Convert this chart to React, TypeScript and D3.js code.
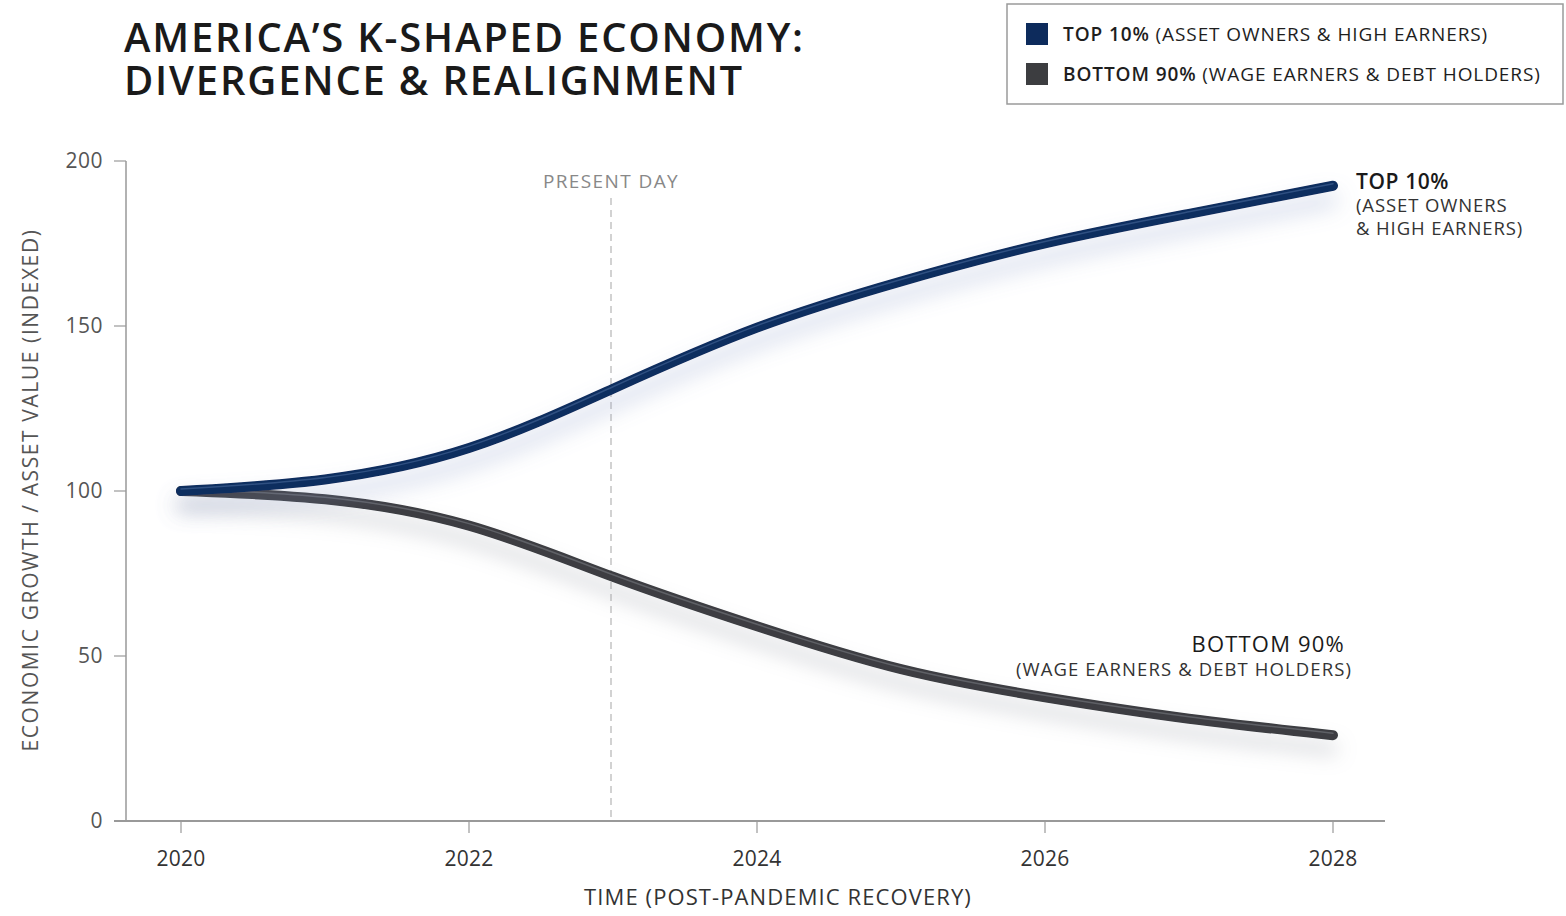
import React from "react";
import * as d3 from "d3";

const years = [2020, 2021, 2022, 2023, 2024, 2025, 2026, 2027, 2028];
const top10 = [100, 103.5, 113, 131, 149.5, 163.5, 175, 184, 192.5];
const bottom90 = [100, 97.5, 89.5, 74, 59, 46, 37.5, 31, 26];
const yTicks = [0, 50, 100, 150, 200];
const xTicks = [2020, 2022, 2024, 2026, 2028];
const presentYear = 2023;

const W = 1566;
const H = 916;
const FONT = "'Open Sans', 'Noto Sans', sans-serif";

export default function App() {
  const x = d3.scaleLinear().domain([2020, 2028]).range([181, 1333]);
  const y = d3.scaleLinear().domain([0, 200]).range([821, 161]);
  const line = d3
    .line<number>()
    .x((_, i) => x(years[i]))
    .y((d) => y(d))
    .curve(d3.curveNatural);
  const topPath = line(top10) || "";
  const botPath = line(bottom90) || "";

  return (
    <svg width={W} height={H} style={{ position: "absolute", left: 0, top: 0, background: "#fff" }} fontFamily={FONT}>
      <defs>
        <filter id="shTop" x="-10%" y="-30%" width="120%" height="160%">
          <feDropShadow dx="0" dy="14" stdDeviation="11" floodColor="#8496c4" floodOpacity="0.45" />
        </filter>
        <filter id="shBot" x="-10%" y="-30%" width="120%" height="160%">
          <feDropShadow dx="0" dy="14" stdDeviation="10" floodColor="#9a9ea8" floodOpacity="0.45" />
        </filter>
      </defs>
      <rect width={W} height={H} fill="#fff" />

      {/* Title */}
      <text x={124} y={52} fontSize={40} fill="#1a1a1a" fontWeight={600} letterSpacing={1.8}>
        AMERICA’S K-SHAPED ECONOMY:
      </text>
      <text x={124} y={95} fontSize={40} fill="#1a1a1a" fontWeight={600} letterSpacing={1.8}>
        DIVERGENCE &amp; REALIGNMENT
      </text>

      {/* Legend */}
      <rect x={1007} y={4} width={556} height={100} fill="#fff" stroke="#9a9a9a" strokeWidth={1.5} />
      <rect x={1026} y={23} width={22} height={22} fill="#0d2b5c" />
      <rect x={1026} y={63} width={22} height={22} fill="#3c3d40" />
      <text x={1063} y={41} fontSize={19} fill="#1e1e1e" letterSpacing={0.9}>
        <tspan fontWeight={600}>TOP 10%</tspan> (ASSET OWNERS &amp; HIGH EARNERS)
      </text>
      <text x={1063} y={81} fontSize={19} fill="#1e1e1e" letterSpacing={0.9}>
        <tspan fontWeight={600}>BOTTOM 90%</tspan> (WAGE EARNERS &amp; DEBT HOLDERS)
      </text>

      {/* Axes */}
      <line x1={126} x2={126} y1={161} y2={821} stroke="#999" strokeWidth={1.5} />
      <line x1={114} x2={1385} y1={821} y2={821} stroke="#999" strokeWidth={2} />
      {yTicks.map((t) => (
        <g key={t}>
          <line x1={114} x2={126} y1={y(t)} y2={y(t)} stroke="#999" strokeWidth={1.2} />
          <text x={103} y={y(t) + 7} fontSize={21} fill="#555" textAnchor="end" letterSpacing={0.5}>
            {t}
          </text>
        </g>
      ))}
      {xTicks.map((t) => (
        <g key={t}>
          <line x1={x(t)} x2={x(t)} y1={821} y2={833} stroke="#999" strokeWidth={1.2} />
          <text x={x(t)} y={866} fontSize={21} fill="#333" textAnchor="middle" letterSpacing={0.3}>
            {t}
          </text>
        </g>
      ))}
      <text x={778} y={905} fontSize={22} fill="#333" textAnchor="middle" letterSpacing={1.1}>
        TIME (POST-PANDEMIC RECOVERY)
      </text>
      <text
        transform={`translate(38, 490) rotate(-90)`}
        fontSize={21}
        fill="#555"
        textAnchor="middle"
        letterSpacing={1.6}
      >
        ECONOMIC GROWTH / ASSET VALUE (INDEXED)
      </text>

      {/* Present day */}
      <line
        x1={x(presentYear) - 2}
        x2={x(presentYear) - 2}
        y1={198}
        y2={821}
        stroke="#bbb"
        strokeWidth={1.3}
        strokeDasharray="7 5"
      />
      <text x={x(presentYear) - 2} y={188} fontSize={19} fill="#888" textAnchor="middle" letterSpacing={1.4}>
        PRESENT DAY
      </text>

      {/* Lines */}
      <path d={botPath} fill="none" stroke="#3c3e42" strokeWidth={10} strokeLinecap="round" filter="url(#shBot)" />
      <path d={botPath} fill="none" stroke="#9ea2aa" strokeWidth={1.5} strokeLinecap="round" opacity={0.35} transform="translate(0,-2)" />
      <path d={topPath} fill="none" stroke="#0f2d5f" strokeWidth={10} strokeLinecap="round" filter="url(#shTop)" />
      <path d={topPath} fill="none" stroke="#6f8fc4" strokeWidth={1.5} strokeLinecap="round" opacity={0.35} transform="translate(0,-2)" />

      {/* End labels */}
      <text x={1356} y={189} fontSize={21} fill="#1a1a1a" fontWeight={600} letterSpacing={0.6}>
        TOP 10%
      </text>
      <text x={1356} y={212} fontSize={18.5} fill="#333" letterSpacing={0.9}>
        (ASSET OWNERS
      </text>
      <text x={1356} y={235} fontSize={18.5} fill="#333" letterSpacing={0.9}>
        &amp; HIGH EARNERS)
      </text>
      <text x={1345} y={652} fontSize={22} fill="#1a1a1a" textAnchor="end" letterSpacing={1.2}>
        BOTTOM 90%
      </text>
      <text x={1352} y={676} fontSize={18.5} fill="#333" textAnchor="end" letterSpacing={1.1}>
        (WAGE EARNERS &amp; DEBT HOLDERS)
      </text>
    </svg>
  );
}
